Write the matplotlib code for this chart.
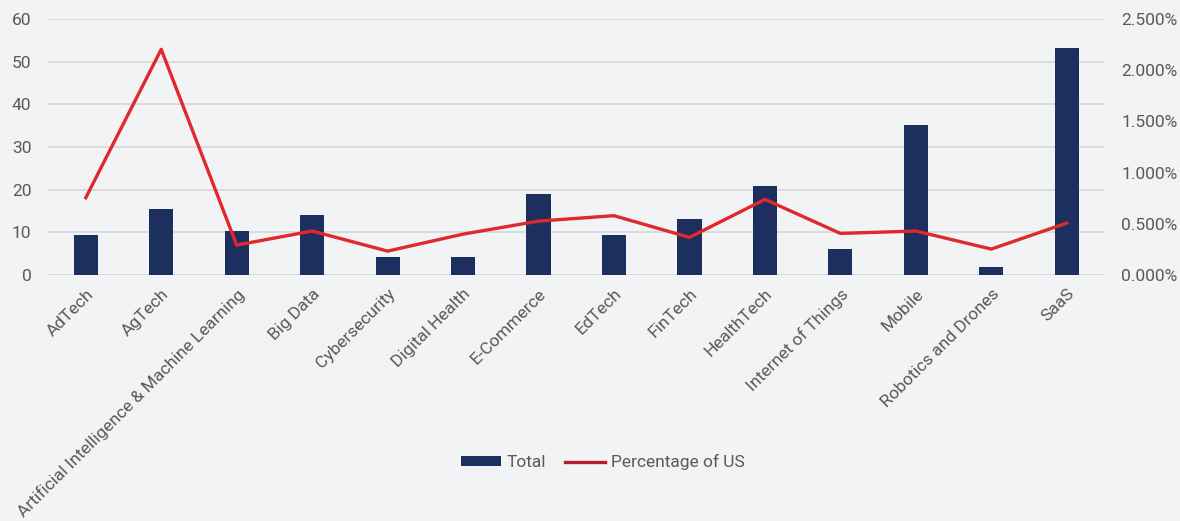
import matplotlib
matplotlib.use("Agg")
import matplotlib.pyplot as plt
from matplotlib.ticker import FuncFormatter, MultipleLocator
import numpy as np

categories = ["AdTech", "AgTech", "Artificial Intelligence & Machine Learning", "Big Data",
              "Cybersecurity", "Digital Health", "E-Commerce", "EdTech", "FinTech",
              "HealthTech", "Internet of Things", "Mobile", "Robotics and Drones", "SaaS"]
total = [9.4, 15.5, 10.3, 14.0, 4.2, 4.2, 19.0, 9.4, 13.1, 20.8, 6.1, 35.1, 1.9, 53.2]
pct_of_us = [0.755, 2.204, 0.293, 0.430, 0.234, 0.400, 0.527, 0.580, 0.368, 0.739, 0.407, 0.430, 0.254, 0.508]

bg = "#f2f3f5"
navy = "#1d2f5f"
red = "#e0282d"
txt = "#595959"
fs = 12.5

plt.rcParams['font.family'] = ['Roboto', 'DejaVu Sans']
plt.rcParams['font.size'] = fs

fig = plt.figure(figsize=(11.8, 5.21), dpi=100, facecolor=bg)
ax1 = fig.add_axes([0.0407, 0.472, 0.8953, 0.4915], facecolor=bg)
x = np.arange(len(categories))

ax1.bar(x, total, width=0.32, color=navy, zorder=3, label="Total")
ax1.set_ylim(0, 60)
ax1.yaxis.set_major_locator(MultipleLocator(10))
ax1.set_xlim(-0.5, len(categories) - 0.5)
ax1.grid(axis='y', color='#d6d7da', linewidth=1.2, zorder=0)
ax1.set_axisbelow(True)
for s in ax1.spines.values():
    s.set_visible(False)
ax1.tick_params(axis='both', length=0, colors=txt, labelsize=fs)
ax1.tick_params(axis='y', pad=12)
ax1.tick_params(axis='x', pad=8)
ax1.set_xticks(x)
ax1.set_xticklabels(categories, rotation=45, ha='right', rotation_mode='anchor', color=txt)

ax2 = ax1.twinx()
ax2.plot(x, pct_of_us, color=red, linewidth=2.4, zorder=4, label="Percentage of US")
ax2.set_ylim(0, 2.5)
ax2.yaxis.set_major_locator(MultipleLocator(0.5))
ax2.yaxis.set_major_formatter(FuncFormatter(lambda v, p: f"{v:.3f}%"))
for s in ax2.spines.values():
    s.set_visible(False)
ax2.tick_params(axis='y', length=0, colors=txt, labelsize=fs, pad=12)

h1, l1 = ax1.get_legend_handles_labels()
h2, l2 = ax2.get_legend_handles_labels()
leg = fig.legend(h1 + h2, l1 + l2, loc='center', bbox_to_anchor=(0.511, 0.113), ncol=2,
                 frameon=False, fontsize=fs, handlelength=2.3, handleheight=0.5,
                 columnspacing=1.1, handletextpad=0.35)
for t in leg.get_texts():
    t.set_color(txt)
leg.legend_handles[1].set_color("#b81c2e")

fig.savefig("out.png", dpi=100, facecolor=bg)
